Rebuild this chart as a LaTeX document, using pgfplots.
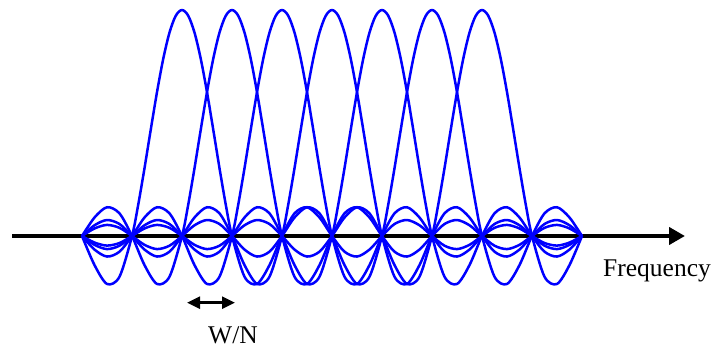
\documentclass[border=0pt]{standalone}
\usepackage{fontspec}
\setmainfont{Liberation Serif}
\usepackage{pgfplots}
\pgfplotsset{compat=1.18}
\usepackage{pgfplotstable}
\usetikzlibrary{arrows.meta}
\pgfplotstableread{
d s
-8 0
-7.75 -0.0290
-7.5 -0.0424
-7.25 -0.0310
-7 0
-6.75 0.0333
-6.5 0.0490
-6.25 0.0360
-6 0
-5.75 -0.0391
-5.5 -0.0579
-5.25 -0.0429
-5 0
-4.75 0.0474
-4.5 0.0707
-4.25 0.0530
-4 0
-3.75 -0.0600
-3.5 -0.0909
-3.25 -0.0693
-3 0
-2.75 0.0818
-2.5 0.1273
-2.25 0.1000
-2 0
-1.75 -0.1286
-1.5 -0.2122
-1.25 -0.1801
-1 0
-0.875 0.1392
-0.75 0.3001
-0.625 0.4705
-0.5 0.6366
-0.375 0.7842
-0.25 0.9003
-0.125 0.9745
0 1
0.125 0.9745
0.25 0.9003
0.375 0.7842
0.5 0.6366
0.625 0.4705
0.75 0.3001
0.875 0.1392
1 0
1.25 -0.1801
1.5 -0.2122
1.75 -0.1286
2 0
2.25 0.1000
2.5 0.1273
2.75 0.0818
3 0
3.25 -0.0693
3.5 -0.0909
3.75 -0.0600
4 0
4.25 0.0530
4.5 0.0707
4.75 0.0474
5 0
5.25 -0.0429
5.5 -0.0579
5.75 -0.0391
6 0
6.25 0.0360
6.5 0.0490
6.75 0.0333
7 0
7.25 -0.0310
7.5 -0.0424
7.75 -0.0290
8 0
}\sinctab
\begin{document}
\begin{tikzpicture}
\begin{axis}[
  scale only axis, width=712bp, height=347bp,
  xmin=-3.64, xmax=10.6, ymin=-0.49115, ymax=1.04425,
  hide axis, clip=false,
  sincline/.style={draw=blue, solid, line width=2.5bp, smooth, line join=round, mark=none},
]
\path (rel axis cs:0,0) rectangle (rel axis cs:1,1);
\draw[line width=4bp, -{Triangle[length=16bp,width=17bp]}] (axis cs:-3.4,0) -- (axis cs:10.06,0);
\addplot[sincline] table[x expr=\thisrow{d}+0, y=s, restrict x to domain=-2:8] {\sinctab};
\addplot[sincline] table[x expr=\thisrow{d}+1, y=s, restrict x to domain=-2:8] {\sinctab};
\addplot[sincline] table[x expr=\thisrow{d}+2, y=s, restrict x to domain=-2:8] {\sinctab};
\addplot[sincline] table[x expr=\thisrow{d}+3, y=s, restrict x to domain=-2:8] {\sinctab};
\addplot[sincline] table[x expr=\thisrow{d}+4, y=s, restrict x to domain=-2:8] {\sinctab};
\addplot[sincline] table[x expr=\thisrow{d}+5, y=s, restrict x to domain=-2:8] {\sinctab};
\addplot[sincline] table[x expr=\thisrow{d}+6, y=s, restrict x to domain=-2:8] {\sinctab};
\draw[line width=2.5bp, {Triangle[length=13bp,width=12bp]}-{Triangle[length=13bp,width=12bp]}] (axis cs:0.1,-0.295) -- (axis cs:1.06,-0.295);
\node[anchor=base, inner sep=0pt, font=\rmfamily\fontsize{25.5bp}{29bp}\selectfont] at (axis cs:1.02,-0.4735) {W/N};
\node[anchor=base west, inner sep=0pt, font=\rmfamily\fontsize{25.5bp}{29bp}\selectfont] at (axis cs:8.42,-0.177) {Frequency};
\end{axis}
\end{tikzpicture}
\end{document}
